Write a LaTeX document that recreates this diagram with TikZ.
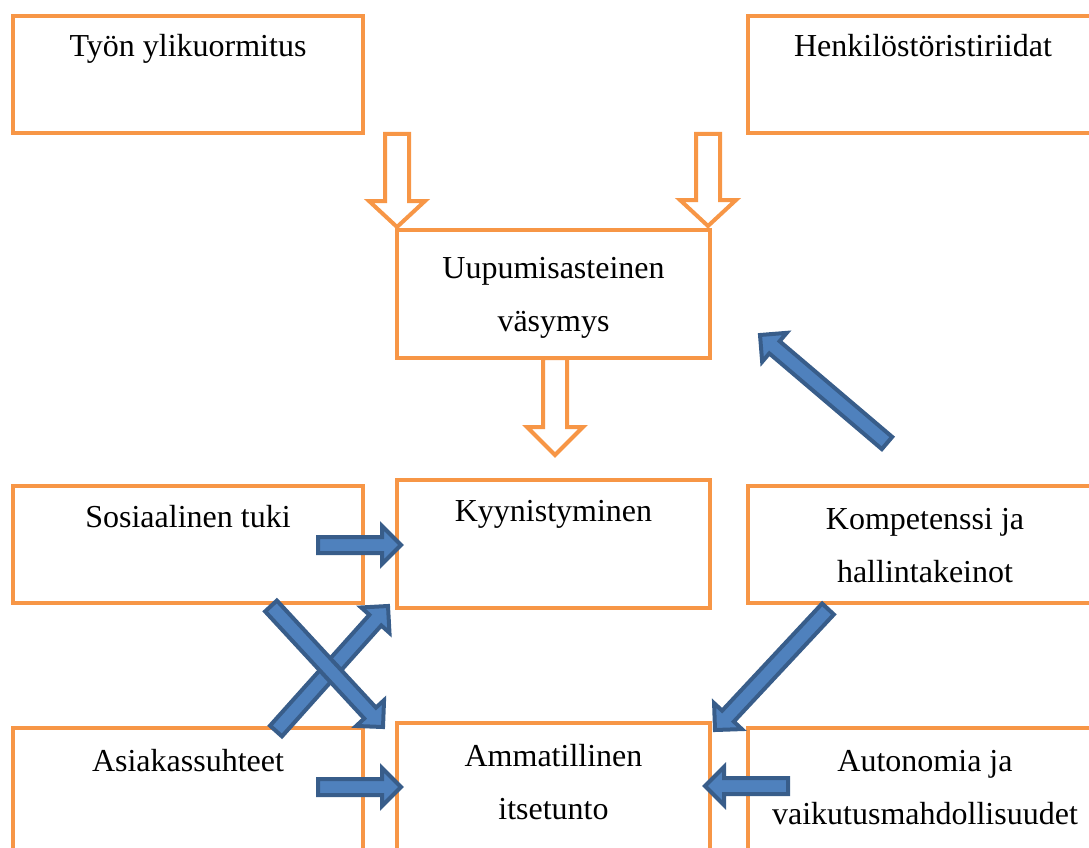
\documentclass[tikz,border=0pt]{standalone}
\usepackage{fontspec}
\setmainfont{Liberation Serif}
\usetikzlibrary{calc}
\definecolor{bxorange}{HTML}{F79646}
\definecolor{arfill}{HTML}{4F81BD}
\definecolor{arline}{HTML}{385D8A}
\newcommand{\blkarrow}[6]{%
  \path[#1] let \p1=(#2), \p2=(#3), \n1={atan2(\y2-\y1,\x2-\x1)}, \n2={veclen(\x2-\x1,\y2-\y1)} in
   [shift={(\p1)}, rotate=\n1]
   (0pt,{-#4*1pt}) -- ({(\n2-#6)*1pt},{-#4*1pt}) -- ({(\n2-#6)*1pt},{-#5*1pt}) -- ({\n2*1pt},0pt)
   -- ({(\n2-#6)*1pt},{#5*1pt}) -- ({(\n2-#6)*1pt},{#4*1pt}) -- (0pt,{#4*1pt}) -- cycle;}
\tikzset{
  box/.style={draw=bxorange, line width=4.5pt, rectangle, inner sep=0pt},
  txt/.style={anchor=base, inner sep=0pt, font=\fontsize{32}{38}\selectfont},
  hollow/.style={draw=bxorange, fill=white, line width=4pt, line join=miter},
  blue/.style={draw=arline, fill=arfill, line width=4pt, line join=miter},
}
\begin{document}
\begin{tikzpicture}[x=1pt,y=-1pt]
\useasboundingbox (0,0) rectangle (1089,848);
% boxes
\node[box, minimum width=350pt, minimum height=117pt] (b1) at (188,74.5) {};
\node[box, minimum width=350pt, minimum height=117pt] (b2) at (923,74.5) {};
\node[box, minimum width=313pt, minimum height=128pt] (b3) at (553.5,294) {};
\node[box, minimum width=350pt, minimum height=117pt] (b4) at (188,544.5) {};
\node[box, minimum width=313pt, minimum height=128pt] (b5) at (553.5,544) {};
\node[box, minimum width=350pt, minimum height=117pt] (b6) at (923,544.5) {};
\node[box, minimum width=350pt, minimum height=127pt] (b7) at (188,791.5) {};
\node[box, minimum width=313pt, minimum height=133pt] (b8) at (553.5,789.5) {};
\node[box, minimum width=350pt, minimum height=127pt] (b9) at (923,791.5) {};
% texts
\node[txt] (t1) at (188,57) {Työn ylikuormitus};
\node[txt] (t2) at (923,57) {Henkilöstöristiriidat};
\node[txt] (t3a) at (553.5,278) {Uupumisasteinen};
\node[txt] (t3b) at (553.5,331) {väsymys};
\node[txt] (t4) at (188,527) {Sosiaalinen tuki};
\node[txt] (t5) at (553.5,521) {Kyynistyminen};
\node[txt] (t6a) at (925,529) {Kompetenssi ja};
\node[txt] (t6b) at (925,582) {hallintakeinot};
\node[txt] (t7) at (188,771) {Asiakassuhteet};
\node[txt] (t8a) at (553.5,766) {Ammatillinen};
\node[txt] (t8b) at (553.5,819) {itsetunto};
\node[txt] (t9a) at (925,771) {Autonomia ja};
\node[txt] (t9b) at (925,824) {vaikutusmahdollisuudet};
% connector end points
\coordinate (o1s) at (397,134);
\coordinate (o1e) at (397,227);
\coordinate (o2s) at (708,134);
\coordinate (o2e) at (708,226);
\coordinate (o3s) at (555,358);
\coordinate (o3e) at (555,455);
\coordinate (h1s) at (318,545);
\coordinate (h1e) at (401,545);
\coordinate (h2s) at (318,787);
\coordinate (h2e) at (401,787);
\coordinate (h3s) at (788,786);
\coordinate (h3e) at (705,786);
\coordinate (d1s) at (828,609);
\coordinate (d1e) at (715,730);
\coordinate (d2s) at (887,443);
\coordinate (d2e) at (760,335);
\coordinate (x1s) at (271,606);
\coordinate (x1e) at (383,727);
\coordinate (x2s) at (276,731);
\coordinate (x2e) at (388,606);
% orange hollow arrows
\blkarrow{hollow}{o1s}{o1e}{12}{28}{26}
\blkarrow{hollow}{o2s}{o2e}{12}{28}{26}
\blkarrow{hollow}{o3s}{o3e}{12}{28}{28}
% blue block arrows
\blkarrow{blue}{h1s}{h1e}{8}{19}{19}
\blkarrow{blue}{h2s}{h2e}{8}{19}{19}
\blkarrow{blue}{h3s}{h3e}{8}{19}{19}
\blkarrow{blue}{d1s}{d1e}{8}{19}{19}
\blkarrow{blue}{d2s}{d2e}{8}{19}{19}
\blkarrow{blue}{x2s}{x2e}{8}{19}{19}
\blkarrow{blue}{x1s}{x1e}{8}{19}{19}
\end{tikzpicture}
\end{document}
